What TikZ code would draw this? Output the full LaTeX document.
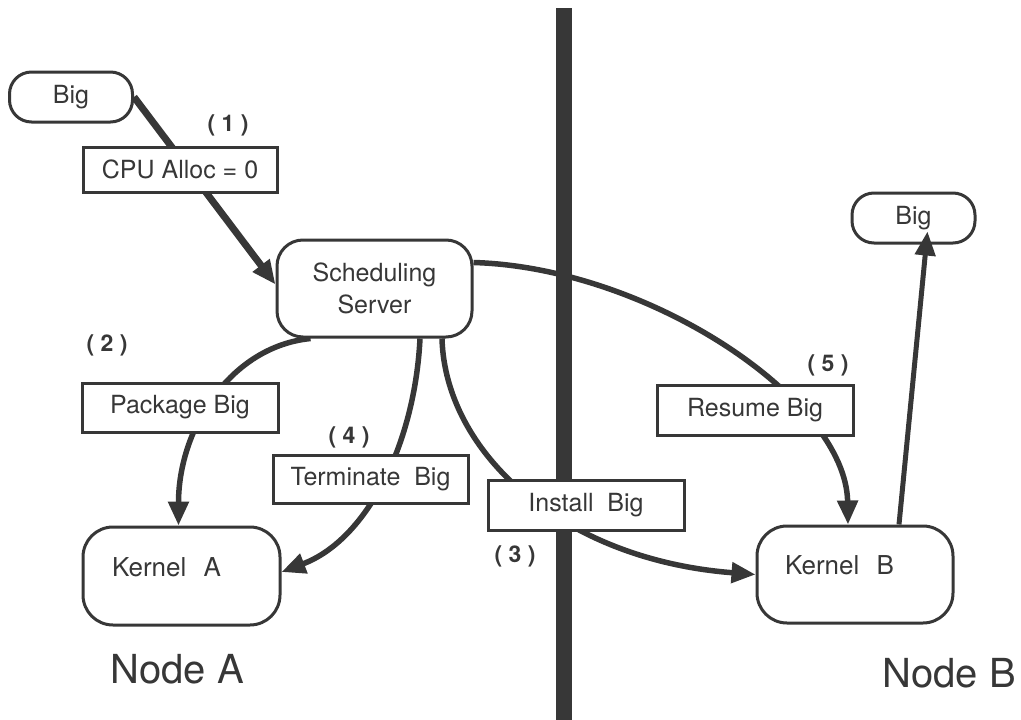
\documentclass[tikz,border=0pt]{standalone}
\usepackage{fontspec}
\setmainfont{TeX Gyre Heros}
\usetikzlibrary{arrows.meta,calc}
\definecolor{ink}{RGB}{55,55,55}
\pgfdeclarelayer{bg}
\pgfsetlayers{bg,main}
\begin{document}
\begin{tikzpicture}[x=1pt,y=-1pt,
  font=\fontsize{25}{32}\selectfont,
  every node/.style={text=ink},
  rbox/.style={draw=ink, line width=3pt, fill=white, rounded corners=#1, inner sep=0pt},
  rbox/.default=24pt,
  sbox/.style={draw=ink, line width=3pt, fill=white, inner sep=0pt, minimum width=196pt, minimum height=49pt},
  kbox/.style={rbox=30pt, minimum width=197pt, minimum height=98pt, align=left, inner xsep=29pt, text width=139pt, text depth=18pt, font=\fontsize{26}{32}\selectfont},
  conn/.style={draw=ink, line width=5.5pt, -{Triangle[length=24pt,width=20pt]}},
  numlbl/.style={font=\fontsize{23}{26}\selectfont\bfseries},
  bigtxt/.style={font=\fontsize{40}{48}\selectfont}
]
\useasboundingbox (0,0) rectangle (1021,720);

% nodes
\node[rbox=22pt, minimum width=123pt, minimum height=50pt] (big1) at (71,97) {Big};
\node[sbox, minimum width=194pt, minimum height=45pt] (cpu) at (180,169.5) {CPU Alloc = 0};
\node[rbox=26pt, minimum width=195pt, minimum height=97pt, align=center] (ss) at (374.5,288.5) {Scheduling\\Server};
\node[sbox] (pkg) at (180,407.5) {Package Big};
\node[sbox, minimum width=195pt, minimum height=48pt] (term) at (370.5,479) {Terminate\ \ Big};
\node[sbox, minimum height=50pt] (inst) at (586,505) {Install\ \ Big};
\node[sbox, minimum height=50pt] (res) at (755,410) {Resume Big};
\node[kbox] (ka) at (181.5,576) {Kernel\ \ A};
\node[kbox, minimum width=196pt, minimum height=97pt, inner xsep=28pt, text width=140pt] (kb) at (855,574.5) {Kernel\ \ B};
\node[rbox=22pt, minimum width=123pt, minimum height=50pt] (big2) at (913.5,218) {Big};

\node[numlbl] (n1) at (228,125) {( 1 )};
\node[numlbl] (n2) at (107,345) {( 2 )};
\node[numlbl] (n3) at (515,556) {( 3 )};
\node[numlbl] (n4) at (349,437) {( 4 )};
\node[numlbl] (n5) at (828,365) {( 5 )};

\node[bigtxt] (nodea) at (177,669) {Node A};
\node[bigtxt] (nodeb) at (949,673) {Node B};

% divider and connectors behind the boxes
\coordinate (dtop) at (564,8);
\coordinate (dbot) at (564,720);
\begin{pgfonlayer}{bg}
\draw[draw=ink, line width=16pt] (dtop) -- (dbot);
\draw[conn, line width=7pt] (big1.east) -- ([yshift=4pt]ss.west);
\draw[conn] ([xshift=-64pt]ss.south) .. controls +(-80,8) and +(0,-97) .. ([xshift=-3pt]ka.north);
\draw[conn] ([xshift=45.5pt]ss.south) .. controls +(-5,103) and +(87,-33) .. ([yshift=4pt]ka.east);
\draw[conn] ([xshift=67.5pt]ss.south) .. controls +(3,113) and +(-195,-15) .. (kb.west);
\draw[conn] ([yshift=26pt]ss.east) .. controls +(175,5) and +(-2,-125) .. ([xshift=-7pt]kb.north);
\end{pgfonlayer}
\draw[conn, line width=5pt] ([xshift=44pt]kb.north) -- ([xshift=14pt,yshift=13pt]big2.south);
\end{tikzpicture}
\end{document}
